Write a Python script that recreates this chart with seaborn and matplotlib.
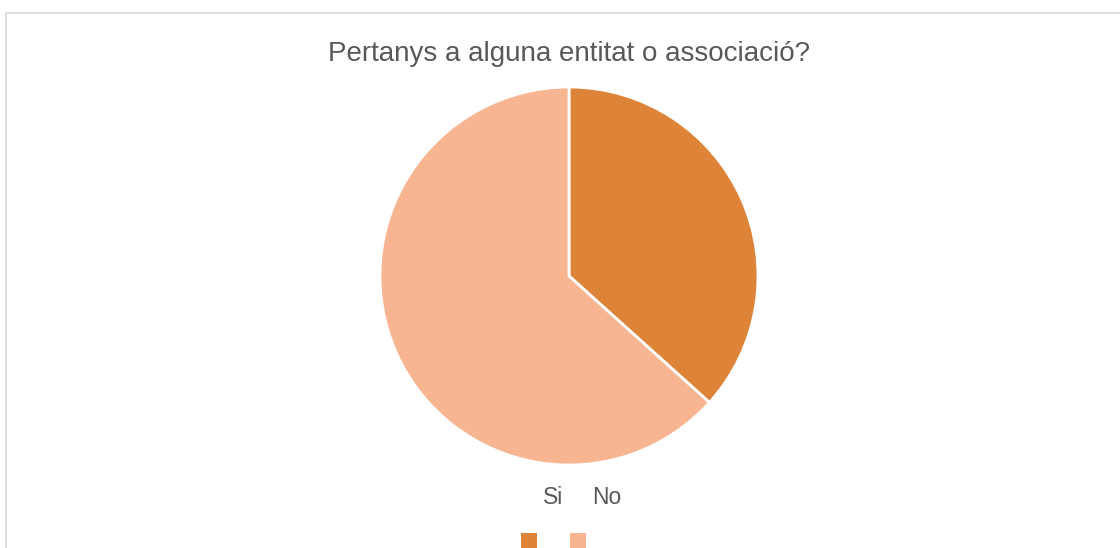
import matplotlib
matplotlib.use("Agg")
import matplotlib.pyplot as plt
from matplotlib.patches import Rectangle
import seaborn as sns

labels = ["Si", "No"]
values = [11, 19]
colors = ["#DD8439", "#F8B592"]
title = "Pertanys a alguna entitat o associació?"

sns.set_theme(style="white")
plt.rcParams["font.family"] = ["Liberation Sans", "DejaVu Sans"]

fig = plt.figure(figsize=(11.2, 5.48), dpi=100)
fig.patches.append(Rectangle((6 / 1120, -0.1), 1.2, (548 - 12.5) / 548 + 0.1,
                             transform=fig.transFigure, fill=False,
                             edgecolor="#D9D9D9", linewidth=1.2))

ax = fig.add_axes([(569 - 189) / 1120, (272 - 189) / 548, 378 / 1120, 378 / 548])
ax.pie(values, colors=colors, startangle=90, counterclock=False,
       wedgeprops=dict(edgecolor="white", linewidth=2))
ax.set_xlim(-1, 1)
ax.set_ylim(-1, 1)
ax.set_aspect("equal")
ax.axis("off")

fig.text(569 / 1120, 1 - 54 / 548, title, ha="center", va="center",
         fontsize=20, color="#595959")

# legend: labels above, colour squares below (as in the reference)
label_x = [553, 607]
square_x = [529, 578]
for lab, lx, sx, c in zip(labels, label_x, square_x, colors):
    fig.text(lx / 1120, 1 - 497 / 548, lab, ha="center", va="center",
             fontsize=16.5, color="#595959")
    fig.patches.append(Rectangle(((sx - 8) / 1120, 0), 16 / 1120, 15 / 548,
                                 transform=fig.transFigure, facecolor=c,
                                 edgecolor="none"))

fig.savefig("out.png", dpi=100)
